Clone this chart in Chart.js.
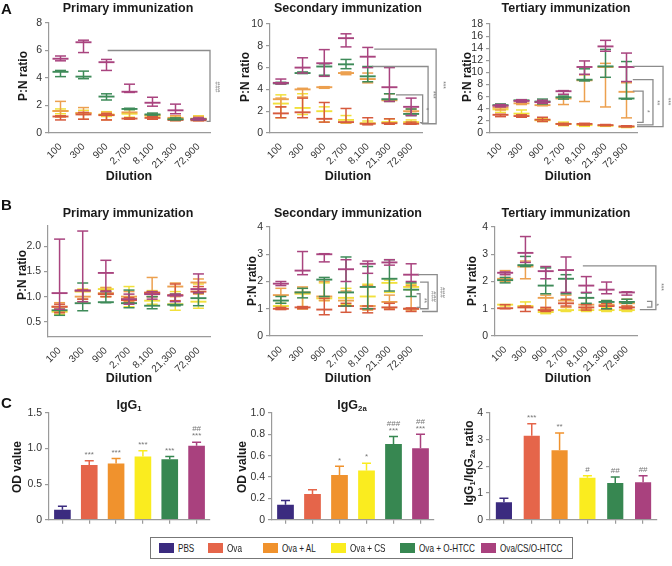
<!DOCTYPE html>
<html>
<head>
<meta charset="utf-8">
<script src="https://cdn.jsdelivr.net/npm/chart.js@4.4.1/dist/chart.umd.min.js"></script>
<style>
  body { margin: 0; background: #fff; font-family: Arial, "Liberation Sans", sans-serif; }
  #fig { position: relative; width: 672px; height: 566px; overflow: hidden; }
  canvas { position: absolute; }
  .t { position: absolute; transform: translate(-50%, -50%); white-space: nowrap; color: #1a1a1a; font-weight: bold; font-size: 12.5px; }
  .v { transform: translate(-50%, -50%) rotate(-90deg); }
  .L { position: absolute; font-weight: bold; font-size: 15px; color: #111; }
  sub { font-size: 62%; vertical-align: -0.3em; line-height: 0; }
  #legend { position: absolute; left: 150px; top: 537px; width: 423px; height: 22px; border: 1px solid #777; box-sizing: border-box; }
  #legend .sw { position: absolute; top: 5px; width: 15px; height: 10px; }
  #legend .tx { position: absolute; top: 3px; font-size: 11px; line-height: 14px; color: #222; white-space: nowrap;
                transform: scaleX(0.74); transform-origin: left center; }
</style>
</head>
<body>
<div id="fig"></div>
<script>
// ---- categories ----
const dilutions = ['100', '300', '900', '2,700', '8,100', '21,300', '72,900'];
const groups = ['PBS', 'Ova', 'Ova + AL', 'Ova + CS', 'Ova + O-HTCC', 'Ova/CS/O-HTCC'];

// ---- A: serum P:N ratio, each point [low, mean, high] ----
const aPrimOCH = [[5.25,5.4,5.6],[5.85,6.6,6.75],[4.55,5.15,5.35],[2.95,3.0,3.55],[1.95,2.2,2.6],[1.4,1.65,2.1],[0.95,1.0,1.1]];
const aPrimOH  = [[4.1,4.45,4.55],[3.95,4.1,4.5],[2.4,2.65,2.85],[1.7,1.75,1.8],[1.3,1.35,1.45],[0.95,1.0,1.1],[0.95,1.0,1.05]];
const aPrimOva = [[0.95,1.2,1.25],[1.0,1.35,1.5],[0.95,1.3,1.4],[1.0,1.05,1.1],[1.0,1.1,1.2],[0.9,0.95,1.0],[0.9,0.92,0.95]];
const aPrimAL  = [[1.15,1.6,2.3],[1.0,1.45,1.85],[0.95,1.3,1.5],[1.1,1.5,1.75],[1.05,1.3,1.4],[0.9,1.1,1.25],[0.9,1.0,1.2]];
const aPrimCS  = [[1.4,1.6,1.75],[1.35,1.45,1.65],[1.2,1.35,1.55],[1.15,1.4,1.7],[1.15,1.25,1.35],[0.95,1.05,1.25],[0.95,1.05,1.25]];

const aSecOCH = [[4.5,4.6,4.95],[5.5,6.0,6.9],[5.2,6.4,7.65],[7.9,8.7,9.1],[6.0,7.0,7.85],[2.9,4.2,6.0],[1.6,2.4,3.2]];
const aSecOH  = [[4.5,4.55,4.65],[5.45,5.5,5.6],[5.3,6.1,6.35],[5.9,6.3,6.75],[4.7,5.2,6.1],[2.9,3.1,3.6],[1.6,1.75,2.2]];
const aSecOva = [[1.4,1.8,2.4],[1.4,1.9,3.2],[1.0,1.3,2.8],[0.95,1.0,2.25],[0.75,0.85,1.4],[0.8,0.9,1.3],[0.8,0.85,1.0]];
const aSecAL  = [[2.4,3.1,3.2],[3.3,4.0,4.1],[4.1,4.2,4.25],[5.35,5.5,5.6],[4.6,4.95,5.5],[2.9,3.0,3.6],[1.8,2.0,2.2]];
const aSecCS  = [[1.4,2.7,3.5],[1.7,2.3,3.6],[1.0,2.0,2.4],[0.9,1.2,1.6],[0.8,0.9,1.1],[0.85,1.0,1.3],[0.85,1.0,1.2]];

const aTerOCH = [[4.3,4.5,4.7],[5.1,5.3,5.5],[4.9,5.1,5.4],[6.4,6.9,7.0],[9.7,10.9,11.9],[13.5,14.3,15.3],[8.5,10.9,13.2]];
const aTerOH  = [[4.5,4.6,4.8],[5.2,5.4,5.5],[4.8,5.2,5.6],[5.6,5.9,6.1],[8.6,8.8,10.6],[9.2,11.0,13.8],[5.6,5.7,11.8]];
const aTerOva = [[2.7,3.0,3.1],[2.6,2.8,3.0],[1.9,2.2,2.6],[1.3,1.5,1.6],[1.3,1.5,1.6],[1.2,1.3,1.4],[1.0,1.1,1.2]];
const aTerAL  = [[3.8,4.2,4.4],[4.7,4.9,5.0],[4.5,4.6,4.8],[4.7,5.7,6.0],[5.2,8.7,9.6],[4.3,10.9,11.5],[2.5,6.8,8.3]];
const aTerCS  = [[3.4,3.9,4.3],[2.7,3.2,3.8],[1.9,2.1,2.4],[1.2,1.5,1.8],[1.1,1.3,1.5],[1.1,1.2,1.3],[0.9,1.0,1.1]];

// ---- B: P:N ratio ----
const bPrimOCH = [[0.75,1.07,2.14],[0.9,1.12,2.3],[1.1,1.47,1.72],[0.85,0.95,1.05],[0.95,1.05,1.1],[0.9,1.02,1.05],[1.08,1.15,1.45]];
const bPrimOH  = [[0.63,0.73,0.75],[0.72,0.87,1.27],[0.88,0.89,1.1],[0.78,0.87,1.13],[0.76,0.82,1.0],[0.82,0.84,1.05],[0.82,0.97,1.08]];
const bPrimOva = [[0.68,0.8,0.85],[0.95,1.12,1.13],[1.0,1.05,1.12],[0.88,0.93,0.98],[1.0,1.08,1.1],[0.92,1.03,1.25],[1.07,1.1,1.2]];
const bPrimAL  = [[0.7,0.8,0.88],[0.95,1.0,1.13],[1.0,1.07,1.18],[0.9,1.0,1.1],[1.0,1.07,1.38],[1.0,1.2,1.27],[1.05,1.28,1.35]];
const bPrimCS  = [[0.65,0.7,0.75],[0.9,1.1,1.15],[1.0,1.15,1.18],[0.8,0.95,1.2],[0.85,0.92,1.12],[0.73,0.85,1.1],[0.77,0.9,1.25]];

const bSecOCH = [[1.85,1.92,2.0],[2.25,2.4,3.1],[2.72,3.0,3.02],[2.0,2.45,2.8],[2.3,2.65,2.75],[2.6,2.7,2.8],[2.0,2.25,2.65]];
const bSecOH  = [[1.2,1.3,1.45],[1.4,1.6,1.75],[1.45,2.07,2.15],[1.1,1.6,2.9],[1.0,1.8,2.55],[1.65,2.1,2.8],[1.45,1.7,1.95]];
const bSecOva = [[0.97,1.0,1.05],[1.0,1.05,1.08],[0.78,0.97,1.38],[0.87,1.1,1.2],[0.85,1.0,1.1],[0.97,1.05,1.2],[0.9,1.0,1.03]];
const bSecAL  = [[1.0,1.5,1.75],[1.0,1.6,1.8],[1.3,1.45,2.0],[1.1,1.3,1.65],[0.95,1.1,1.85],[1.0,1.25,1.5],[0.95,1.0,1.85]];
const bSecCS  = [[1.0,1.1,1.2],[1.0,1.55,1.75],[1.3,1.38,1.95],[1.15,1.4,1.75],[1.0,1.45,1.9],[1.6,1.95,2.05],[1.7,1.8,1.9]];

const bTerOCH = [[2.25,2.32,2.35],[2.7,3.05,3.65],[2.1,2.38,2.55],[1.6,2.42,2.9],[1.6,1.85,2.18],[1.55,1.7,1.98],[1.5,1.6,1.62]];
const bTerOH  = [[1.95,2.05,2.15],[2.55,2.6,2.92],[1.55,1.85,2.5],[1.55,2.1,2.25],[1.2,1.4,1.58],[1.0,1.25,1.3],[1.2,1.25,1.35]];
const bTerOva = [[1.0,1.02,1.15],[0.9,1.05,1.1],[0.9,0.95,1.05],[1.1,1.2,1.35],[0.95,1.05,1.15],[1.0,1.1,1.2],[1.0,1.05,1.1]];
const bTerAL  = [[2.0,2.1,2.4],[2.1,2.55,2.75],[1.0,1.4,1.5],[1.05,1.3,1.5],[1.0,1.15,1.4],[1.0,1.15,1.3],[1.05,1.2,1.35]];
const bTerCS  = [[1.1,1.15,1.15],[1.05,1.1,1.25],[0.82,0.88,1.0],[0.9,0.95,1.05],[0.9,0.95,1.05],[0.9,0.95,1.05],[0.9,0.95,1.1]];

// ---- C: OD values (mean, upper error) ----
const c1Means = [0.14, 0.77, 0.79, 0.89, 0.85, 1.04];
const c1Errs  = [0.05, 0.06, 0.07, 0.08, 0.04, 0.05];
const c1Stars = ['', '***', '***', '***', '***', '***'];
const c1Hash  = ['', '', '', '', '', '##'];
const c2Means = [0.14, 0.24, 0.42, 0.46, 0.71, 0.67];
const c2Errs  = [0.04, 0.04, 0.08, 0.07, 0.07, 0.13];
const c2Stars = ['', '', '*', '*', '***', '***'];
const c2Hash  = ['', '', '', '', '###', '##'];
const c3Means = [0.65, 3.15, 2.6, 1.57, 1.38, 1.4];
const c3Errs  = [0.15, 0.45, 0.65, 0.08, 0.22, 0.25];
const c3Stars = ['', '***', '**', '#', '##', '##'];
const c3Hash  = ['', '', '', '', '', ''];

// ---- tick labels ----
const aPrimTicks = [0, 2, 4, 6, 8];
const aSecTicks = [0, 2, 4, 6, 8, 10];
const aTerTicks = [0, 2, 4, 6, 8, 10, 12, 14, 16, 18];
const bPrimTicks = [0.5, 1.0, 1.5, 2.0];
const bTicks = [0, 1, 2, 3, 4];
const c1Ticks = [0, 0.5, 1.0, 1.5];
const c2Ticks = [0, 0.2, 0.4, 0.6, 0.8, 1.0];
const c3Ticks = [0, 1, 2, 3, 4];

// ---- significance brackets (x in category units) ----
const aPrimBrackets = [{x1: 2.05, top: 6.0, x2: 6.5, bottom: 0.85, xb: 6.35, text: '###', tx: 6.8, ty: 3.35}];
const aSecBrackets = [
  {x1: 4.3, top: 7.7, x2: 7.15, bottom: 0.85, xb: 6.5, text: '***', tx: 7.45, ty: 4.4},
  {x1: 4.2, top: 6.1, x2: 6.78, bottom: 0.9, xb: 6.45, text: '***', tx: 6.98, ty: 3.5},
  {x1: 5.3, top: 3.5, x2: 6.53, bottom: 0.95, xb: 6.4, text: '*', tx: 6.68, ty: 2.2}
];
const aTerBrackets = [
  {x1: 6.3, top: 11.0, x2: 7.74, bottom: 1.05, xb: 6.5, text: '***', tx: 7.95, ty: 5.2},
  {x1: 6.3, top: 8.8, x2: 7.26, bottom: 1.35, xb: 6.5, text: '**', tx: 7.45, ty: 5.0},
  {x1: 6.3, top: 6.9, x2: 6.79, bottom: 1.75, xb: 6.5, text: '*', tx: 6.98, ty: 3.6}
];
const bSecBrackets = [
  {x1: 6.32, top: 2.25, x2: 7.2, bottom: 0.9, xb: 6.5, text: '###', tx: 7.43, ty: 1.6},
  {x1: 6.41, top: 1.98, x2: 6.78, bottom: 1.0, xb: 6.41, text: '###', tx: 6.98, ty: 1.45},
  {x1: 6.25, top: 1.55, x2: 6.41, bottom: 1.05, xb: 6.25, text: '**', tx: 6.6, ty: 1.3}
];
const bTerBrackets = [
  {x1: 3.83, top: 2.57, x2: 7.43, bottom: 0.97, xb: 6.64, text: '***', tx: 7.68, ty: 1.8},
  {x1: 6.99, top: 1.27, x2: 7.23, bottom: 1.06, xb: 6.99, text: '*', tx: 7.43, ty: 1.15}
];

// ---- styles ----
const lineCol = {ova: '#d65a3d', al: '#eca04f', cs: '#f1e03c', oh: '#3e8b59', och: '#a9447f'};
const barColors = ['#3b2b7f', '#e5654a', '#f0922d', '#faec1f', '#378751', '#a9417e'];
const legendX = [158, 207, 262, 330, 399, 480];
const AXIS = '#9a9a9a';
const TICKFONT = {size: 10.5, family: 'Arial'};
const fig = document.getElementById('fig');

const fmtInt = (v) => String(v);
const fmt1 = (v) => (v === 0 ? '0' : v.toFixed(1));

function addCanvas(L, T, W, H) {
  const c = document.createElement('canvas');
  c.width = W; c.height = H;
  c.style.left = L + 'px'; c.style.top = T + 'px';
  fig.appendChild(c);
  return c;
}

function bracketPlugin(items) {
  return {
    id: 'brackets',
    afterDraw(chart) {
      const {ctx, scales: {x, y}} = chart;
      ctx.save();
      ctx.strokeStyle = '#8c8c8c';
      ctx.lineWidth = 1.3;
      items.forEach((b) => {
        ctx.beginPath();
        ctx.moveTo(x.getPixelForValue(b.x1), y.getPixelForValue(b.top));
        ctx.lineTo(x.getPixelForValue(b.x2), y.getPixelForValue(b.top));
        ctx.lineTo(x.getPixelForValue(b.x2), y.getPixelForValue(b.bottom));
        ctx.lineTo(x.getPixelForValue(b.xb), y.getPixelForValue(b.bottom));
        ctx.stroke();
        ctx.save();
        ctx.translate(x.getPixelForValue(b.tx), y.getPixelForValue(b.ty));
        ctx.rotate(Math.PI / 2);
        ctx.fillStyle = '#7c7c7c';
        ctx.font = '6.5px Arial';
        ctx.textAlign = 'center';
        ctx.textBaseline = 'middle';
        ctx.fillText(b.text, 0, 0);
        ctx.restore();
      });
      ctx.restore();
    }
  };
}

// whisker panel: mean line, caps and a thin stem for each group
function whiskerChart(box, series, max, ticks, fmt, brackets, min) {
  const datasets = [];
  series.forEach(([data, color]) => {
    const pt = (vals, r, w) => ({
      type: 'line', data: vals, showLine: false, pointStyle: 'line',
      pointRadius: r, pointBorderWidth: w, pointBorderColor: color, borderColor: color, pointHitRadius: 0
    });
    datasets.push(pt(data.map((d) => d[1]), 8, 1.9));
    datasets.push(pt(data.map((d) => d[2]), 5.5, 1.5));
    datasets.push(pt(data.map((d) => d[0]), 5.5, 1.5));
    datasets.push({type: 'bar', data: data.map((d) => [d[0], d[2]]), backgroundColor: color,
      grouped: false, maxBarThickness: 1.5});
  });
  const c = addCanvas(box.L, box.T, box.W, box.H);
  new Chart(c, {
    type: 'bar',
    data: {labels: dilutions, datasets},
    options: {
      responsive: false, animation: false, devicePixelRatio: 1, events: [],
      layout: {padding: {top: box.pt, right: box.pr, left: 0, bottom: 0}},
      plugins: {legend: {display: false}, tooltip: {enabled: false}},
      scales: {
        x: {
          offset: true, grid: {display: false}, border: {color: AXIS, width: 1.2},
          ticks: {autoSkip: false, minRotation: 45, maxRotation: 45, color: '#333', font: {size: 10, family: 'Arial'}, padding: 0},
          afterFit(s) { s.height = box.xh; }
        },
        y: {
          min: min || 0, max,
          grid: {drawOnChartArea: false, color: AXIS, tickLength: 4, lineWidth: 1.2},
          border: {color: AXIS, width: 1.2},
          ticks: {autoSkip: false, color: '#333', font: TICKFONT, padding: 3, callback: fmt},
          afterBuildTicks(s) { s.ticks = ticks.map((v) => ({value: v})); },
          afterFit(s) { s.width = box.yw; }
        }
      }
    },
    plugins: brackets ? [bracketPlugin(brackets)] : []
  });
}

function marksPlugin(stars, hashes, means, errs) {
  return {
    id: 'marks',
    afterDatasetsDraw(chart) {
      const {ctx, scales: {x, y}} = chart;
      ctx.save();
      ctx.fillStyle = '#777';
      ctx.font = '8px Arial';
      ctx.textAlign = 'center';
      ctx.textBaseline = 'middle';
      means.forEach((m, i) => {
        const px = x.getPixelForValue(i);
        const py = y.getPixelForValue(m + errs[i]);
        if (stars[i]) ctx.fillText(stars[i], px, py - 6);
        if (hashes[i]) ctx.fillText(hashes[i], px, py - 13);
      });
      ctx.restore();
    }
  };
}

function barChart(box, means, errs, max, ticks, fmt, stars, hashes, pct) {
  const c = addCanvas(box.L, box.T, box.W, box.H);
  new Chart(c, {
    type: 'bar',
    data: {
      labels: groups,
      datasets: [
        {type: 'line', data: means.map((m, i) => m + errs[i]), showLine: false, pointStyle: 'line',
          pointRadius: 4.5, pointBorderWidth: 1.5, pointBorderColor: barColors, pointHitRadius: 0},
        {type: 'bar', data: means.map((m, i) => [m, m + errs[i]]), backgroundColor: barColors,
          grouped: false, maxBarThickness: 1.5},
        {type: 'bar', data: means, backgroundColor: barColors, categoryPercentage: 1, barPercentage: pct}
      ]
    },
    options: {
      responsive: false, animation: false, devicePixelRatio: 1, events: [],
      layout: {padding: {top: box.pt, right: box.pr, left: 0, bottom: 0}},
      plugins: {legend: {display: false}, tooltip: {enabled: false}},
      scales: {
        x: {
          offset: true, grid: {offset: false, drawOnChartArea: false, color: AXIS, tickLength: 4, lineWidth: 1.2},
          border: {color: AXIS, width: 1.2},
          ticks: {callback: () => ''},
          afterFit(s) { s.height = box.xh; }
        },
        y: {
          min: 0, max,
          grid: {drawOnChartArea: false, color: AXIS, tickLength: 4, lineWidth: 1.2},
          border: {color: AXIS, width: 1.2},
          ticks: {autoSkip: false, color: '#333', font: TICKFONT, padding: 3, callback: fmt},
          afterBuildTicks(s) { s.ticks = ticks.map((v) => ({value: v})); },
          afterFit(s) { s.width = box.yw; }
        }
      }
    },
    plugins: [marksPlugin(stars, hashes, means, errs)]
  });
}

const S = (och, oh, ova, al, cs) => [[och, lineCol.och], [oh, lineCol.oh], [ova, lineCol.ova], [al, lineCol.al], [cs, lineCol.cs]];

whiskerChart({L: 10, T: 0, W: 225, H: 178, yw: 39, pt: 23, pr: 25, xh: 45},
  S(aPrimOCH, aPrimOH, aPrimOva, aPrimAL, aPrimCS), 8, aPrimTicks, fmtInt, aPrimBrackets);
whiskerChart({L: 240, T: 0, W: 212, H: 178, yw: 30, pt: 24, pr: 30, xh: 45},
  S(aSecOCH, aSecOH, aSecOva, aSecAL, aSecCS), 10, aSecTicks, fmtInt, aSecBrackets);
whiskerChart({L: 460, T: 0, W: 212, H: 178, yw: 30, pt: 24, pr: 35, xh: 45},
  S(aTerOCH, aTerOH, aTerOva, aTerAL, aTerCS), 18, aTerTicks, fmtInt, aTerBrackets);

whiskerChart({L: 10, T: 190, W: 225, H: 192, yw: 38, pt: 36, pr: 25, xh: 45},
  S(bPrimOCH, bPrimOH, bPrimOva, bPrimAL, bPrimCS), 2.4, bPrimTicks, fmt1, null, 0.2);
whiskerChart({L: 240, T: 190, W: 212, H: 191, yw: 30, pt: 37, pr: 30, xh: 45},
  S(bSecOCH, bSecOH, bSecOva, bSecAL, bSecCS), 4, bTicks, fmtInt, bSecBrackets);
whiskerChart({L: 460, T: 190, W: 212, H: 191, yw: 35, pt: 37, pr: 35, xh: 45},
  S(bTerOCH, bTerOH, bTerOva, bTerAL, bTerCS), 4, bTicks, fmtInt, bTerBrackets);

barChart({L: 10, T: 395, W: 210, H: 134, yw: 39, pt: 18, pr: 10, xh: 8}, c1Means, c1Errs, 1.5, c1Ticks, fmt1, c1Stars, c1Hash, 0.62);
barChart({L: 240, T: 395, W: 200, H: 134, yw: 32, pt: 18, pr: 5, xh: 8}, c2Means, c2Errs, 1.0, c2Ticks, fmt1, c2Stars, c2Hash, 0.62);
barChart({L: 460, T: 395, W: 207, H: 134, yw: 30, pt: 18, pr: 10, xh: 8}, c3Means, c3Errs, 4, c3Ticks, fmtInt, c3Stars, c3Hash, 0.58);

// ---- text labels ----
function label(html, x, y, cls, extra) {
  const d = document.createElement('div');
  d.className = cls;
  d.innerHTML = html;
  d.style.left = x + 'px';
  d.style.top = y + 'px';
  if (extra) Object.assign(d.style, extra);
  fig.appendChild(d);
}
label('A', 1, 0, 'L'); label('B', 1, 196, 'L'); label('C', 1, 394, 'L');
[['Primary immunization', 128], ['Secondary immunization', 348], ['Tertiary immunization', 566]].forEach(([s, x]) => {
  label(s, x, 8, 't'); label(s, x, 213, 't');
});
[129, 348, 568].forEach((x) => { label('Dilution', x, 176, 't'); label('Dilution', x, 378, 't'); });
[[23, 76], [245, 77], [467, 77], [22, 275], [252, 281], [472, 281]].forEach(([x, y]) => label('P:N ratio', x, y, 't v', {fontSize: '12px'}));
label('IgG<sub>1</sub>', 129, 405, 't');
label('IgG<sub>2a</sub>', 352, 405, 't');
label('OD value', 17, 467, 't v', {fontSize: '12px'});
label('OD value', 242, 467, 't v', {fontSize: '12px'});
label('IgG<sub>1</sub>/IgG<sub>2a</sub> ratio', 469, 463, 't v', {fontSize: '12px'});

// ---- legend ----
const lg = document.createElement('div');
lg.id = 'legend';
groups.forEach((g, i) => {
  const x = legendX[i] - 150;
  lg.insertAdjacentHTML('beforeend',
    '<span class="sw" style="left:' + x + 'px;background:' + barColors[i] + '"></span>' +
    '<span class="tx" style="left:' + (x + 19) + 'px">' + g + '</span>');
});
fig.appendChild(lg);
</script>
</body>
</html>
